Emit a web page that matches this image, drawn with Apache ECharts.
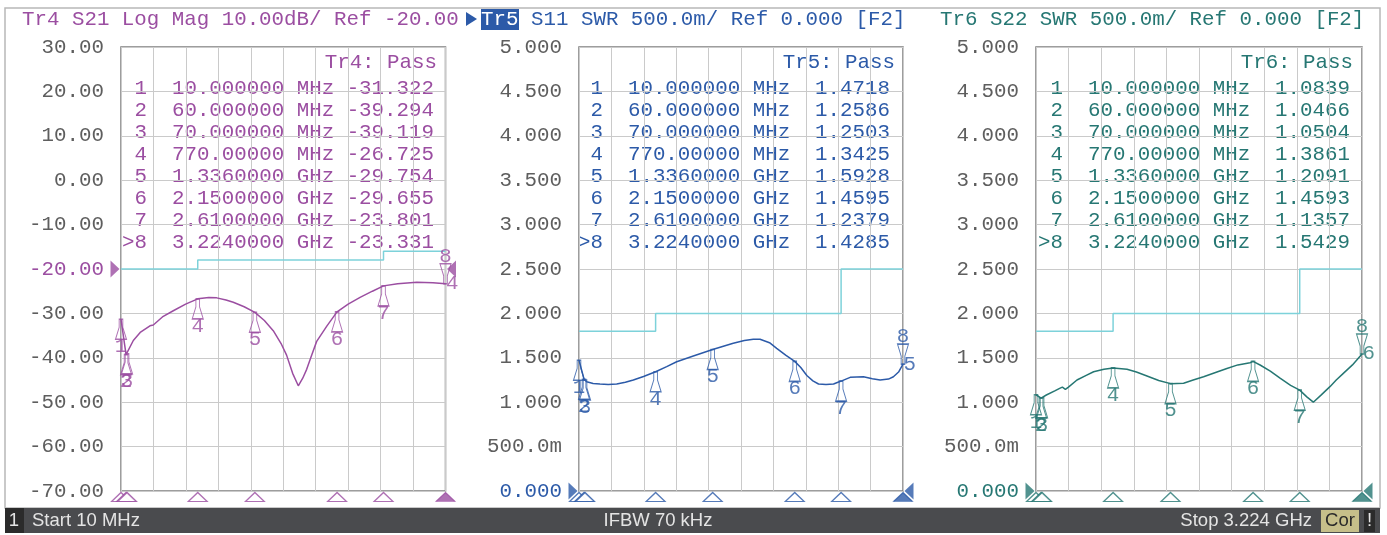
<!DOCTYPE html>
<html>
<head>
<meta charset="utf-8">
<script src="https://cdn.jsdelivr.net/npm/echarts@6/dist/echarts.min.js"></script>
<style>
html, body { margin: 0; padding: 0; background: #fff; }
#chart { width: 1387px; height: 535px; }
</style>
</head>
<body>
<div id="chart"></div>
<script>
// marker stimulus (MHz) and readouts
const markerFreqs = [10, 60, 70, 770, 1336, 2150, 2610, 3224];
const s21Markers = [-31.322, -39.294, -39.119, -26.725, -29.754, -29.655, -23.801, -23.331];
const s11Markers = [1.4718, 1.2586, 1.2503, 1.3425, 1.5928, 1.4595, 1.2379, 1.4285];
const s22Markers = [1.0839, 1.0466, 1.0504, 1.3861, 1.2091, 1.4593, 1.1357, 1.5429];

// traces
const s21Freqs = [10, 60, 70, 132, 200, 297, 330, 420, 528, 650, 770, 880, 958, 1050, 1122, 1230, 1336, 1430, 1518, 1600, 1650, 1710, 1766, 1810, 1849, 1900, 1948, 2050, 2150, 2260, 2378, 2500, 2610, 2750, 2939, 3100, 3224];
const s21Values = [-31.322, -39.294, -39.119, -36.1, -34.3, -32.8, -32.6, -30.8, -29.4, -27.9, -26.725, -26.4, -26.5, -27.0, -27.5, -28.5, -29.754, -31.6, -33.9, -37.0, -39.4, -43.5, -46.3, -44.6, -42.6, -39.3, -36.3, -32.8, -29.655, -27.9, -26.4, -25.0, -23.801, -23.3, -23.0, -23.1, -23.331];

const s11Freqs = [10, 60, 70, 86, 150, 218, 300, 384, 470, 549, 650, 770, 880, 979, 1144, 1336, 1540, 1650, 1739, 1806, 1900, 1971, 2060, 2150, 2210, 2270, 2330, 2386, 2460, 2535, 2610, 2700, 2832, 2920, 2997, 3080, 3129, 3180, 3224];
const s11Values = [1.4718, 1.2586, 1.2503, 1.23, 1.21, 1.205, 1.2, 1.205, 1.225, 1.25, 1.29, 1.3425, 1.40, 1.456, 1.52, 1.5928, 1.663, 1.695, 1.708, 1.708, 1.67, 1.607, 1.53, 1.4595, 1.39, 1.30, 1.24, 1.205, 1.2, 1.205, 1.2379, 1.28, 1.287, 1.265, 1.25, 1.26, 1.287, 1.34, 1.4285];

const s22Freqs = [10, 60, 70, 112, 200, 243, 270, 300, 330, 414, 500, 578, 680, 770, 907, 1000, 1104, 1220, 1336, 1465, 1560, 1662, 1780, 1892, 2000, 2120, 2150, 2219, 2320, 2416, 2520, 2610, 2680, 2744, 2820, 2908, 2970, 3040, 3130, 3224];
const s22Values = [1.0839, 1.0466, 1.0504, 1.081, 1.13, 1.156, 1.17, 1.145, 1.17, 1.25, 1.30, 1.343, 1.37, 1.3861, 1.37, 1.34, 1.295, 1.245, 1.2091, 1.213, 1.25, 1.287, 1.335, 1.38, 1.42, 1.445, 1.4593, 1.419, 1.35, 1.27, 1.19, 1.1357, 1.06, 1.0, 1.08, 1.175, 1.25, 1.325, 1.42, 1.5429];

// limit lines
const limitEdges = [10, 770, 2610, 3224];
const s21Limits = [-20, -18, -16];
const swrLimits = [1.8, 2.0, 2.5];

const startFreq = 10, stopFreq = 3224;

const MONO = '"Liberation Mono", "DejaVu Sans Mono", monospace';
const FONT = '20.8px ' + MONO;
const SANS = '18.5px "Liberation Sans", Arial, sans-serif';
const limitColor = '#7dd2da';

const panels = [
    { left: 121, right: 941.5, title: 'Tr4 S21 Log Mag 10.00dB/ Ref -20.00', titleX: 22, trace: 'Tr4', num: '4',
      freqs: s21Freqs, values: s21Values, markers: s21Markers, limits: s21Limits,
      yMin: -70, yMax: 30, yStep: 10, ref: -20, color: '#9b4ea1', digits: 3, tableX: 434, passX: 437,
      fmt: v => v.toFixed(2) },
    { left: 579, right: 484, title: 'S11 SWR 500.0m/ Ref 0.000 [F2]', titleX: 531, trace: 'Tr5', num: '5',
      freqs: s11Freqs, values: s11Values, markers: s11Markers, limits: swrLimits,
      yMin: 0, yMax: 5, yStep: 0.5, ref: 0, color: '#2c5aa8', digits: 4, tableX: 890, passX: 895,
      fmt: v => Math.abs(v - 0.5) < 1e-9 ? '500.0m' : v.toFixed(3) },
    { left: 1036, right: 25, title: 'Tr6 S22 SWR 500.0m/ Ref 0.000 [F2]', titleX: 940, trace: 'Tr6', num: '6',
      freqs: s22Freqs, values: s22Values, markers: s22Markers, limits: swrLimits,
      yMin: 0, yMax: 5, yStep: 0.5, ref: 0, color: '#267773', digits: 4, tableX: 1350, passX: 1353,
      fmt: v => Math.abs(v - 0.5) < 1e-9 ? '500.0m' : v.toFixed(3) }
];

const upMarker = 'path://M4,0 L8,0 L8,8 L12,20 L0,20 L4,8 Z';
const downMarker = 'path://M0,0 L12,0 L8,12 L8,20 L4,20 L4,12 Z';
const arrowRight = 'path://M0,0 L10,9 L0,18 Z';
const arrowLeft = 'path://M10,0 L0,9 L10,18 Z';

function freqText(f) {
    return f < 1000 ? f.toPrecision(8) + ' MHz' : (f / 1000).toPrecision(8) + ' GHz';
}

const grids = [], xAxes = [], yAxes = [], series = [], graphics = [];

// frame and status bar
graphics.push({ type: 'rect', shape: { x: 5, y: 8, width: 1375, height: 500 },
    style: { fill: 'none', stroke: '#b8b8b8', lineWidth: 1.5 }, z: -1 });
graphics.push({ type: 'rect', shape: { x: 5, y: 508, width: 1375, height: 25 }, style: { fill: '#4a4b4e' } });
graphics.push({ type: 'rect', shape: { x: 5, y: 508, width: 19, height: 25 }, style: { fill: '#2b2b2b' } });
graphics.push({ type: 'text', x: 14, y: 521, style: { text: '1', font: SANS, fill: '#e4e4e4', align: 'center', verticalAlign: 'middle' } });
graphics.push({ type: 'text', x: 32, y: 521, style: { text: 'Start ' + startFreq + ' MHz', font: SANS, fill: '#e4e4e4', align: 'left', verticalAlign: 'middle' } });
graphics.push({ type: 'text', x: 658, y: 521, style: { text: 'IFBW 70 kHz', font: SANS, fill: '#e4e4e4', align: 'center', verticalAlign: 'middle' } });
graphics.push({ type: 'text', x: 1312, y: 521, style: { text: 'Stop ' + (stopFreq / 1000).toFixed(3) + ' GHz', font: SANS, fill: '#e4e4e4', align: 'right', verticalAlign: 'middle' } });
graphics.push({ type: 'rect', shape: { x: 1321, y: 510, width: 38, height: 22 }, style: { fill: '#c6bf8a' } });
graphics.push({ type: 'text', x: 1340, y: 521, style: { text: 'Cor', font: SANS, fill: '#2a2a2a', align: 'center', verticalAlign: 'middle' } });
graphics.push({ type: 'rect', shape: { x: 1364, y: 510, width: 11, height: 22 }, style: { fill: '#2b2b2b' } });
graphics.push({ type: 'text', x: 1369.5, y: 521, style: { text: '!', font: SANS, fill: '#e4e4e4', align: 'center', verticalAlign: 'middle' } });

// active trace highlight for Tr5
graphics.push({ type: 'polygon', shape: { points: [[466, 12], [477, 19], [466, 26]] }, style: { fill: '#2c5aa8' } });
graphics.push({ type: 'rect', shape: { x: 481, y: 9, width: 38, height: 21 }, style: { fill: '#2c5aa8' } });
graphics.push({ type: 'text', x: 481, y: 19.5, style: { text: 'Tr5', font: FONT, fill: '#ffffff', align: 'left', verticalAlign: 'middle' } });

panels.forEach((p, i) => {
    grids.push({ left: p.left, right: p.right, top: 47, bottom: 44, show: true,
        backgroundColor: '#fff', borderColor: '#7d7d7d', borderWidth: 1.5 });
    xAxes.push({ type: 'value', gridIndex: i, min: startFreq, max: stopFreq, interval: (stopFreq - startFreq) / 10,
        axisLabel: { show: false }, axisTick: { show: false }, axisLine: { show: false },
        splitLine: { show: true, lineStyle: { color: '#cacaca', width: 1 } } });
    yAxes.push({ type: 'value', gridIndex: i, min: p.yMin, max: p.yMax, interval: p.yStep,
        axisTick: { show: false }, axisLine: { show: false },
        splitLine: { show: true, lineStyle: { color: '#cacaca', width: 1 } },
        axisLabel: { margin: 17, fontFamily: MONO, fontSize: 20.8, color: '#5e5e5e',
            formatter: v => Math.abs(v - p.ref) < 1e-9 ? '{r|' + p.fmt(v) + '}' : p.fmt(v),
            rich: { r: { color: p.color, fontFamily: MONO, fontSize: 20.8 } } } });

    // limit line
    const lim = [];
    p.limits.forEach((v, k) => { lim.push([limitEdges[k], v]); lim.push([limitEdges[k + 1], v]); });
    series.push({ type: 'line', xAxisIndex: i, yAxisIndex: i, data: lim, symbol: 'none', silent: true,
        lineStyle: { color: limitColor, width: 1.5 }, z: 2 });

    // trace
    series.push({ type: 'line', xAxisIndex: i, yAxisIndex: i, symbol: 'none', silent: true,
        data: p.freqs.map((f, k) => [f, p.values[k]]),
        lineStyle: { color: p.color, width: 1.5 }, z: 3 });

    const labelBase = { show: true, color: p.color, fontFamily: MONO, fontSize: 20.8 };

    // markers 1..7
    series.push({ type: 'scatter', xAxisIndex: i, yAxisIndex: i, clip: false, silent: true, z: 4,
        data: markerFreqs.slice(0, 7).map((f, k) => ({ value: [f, p.markers[k]], name: String(k + 1) })),
        symbol: upMarker, symbolSize: [11, 20], symbolOffset: [0, 10],
        itemStyle: { color: 'rgba(255,255,255,0)', borderColor: p.color, borderWidth: 1.2 },
        label: Object.assign({ position: 'bottom', distance: -4, formatter: d => d.name }, labelBase) });

    // active marker 8
    series.push({ type: 'scatter', xAxisIndex: i, yAxisIndex: i, clip: false, silent: true, z: 4,
        data: [{ value: [markerFreqs[7], p.markers[7]], name: '8' }],
        symbol: downMarker, symbolSize: [11, 20], symbolOffset: [0, -10],
        itemStyle: { color: 'rgba(255,255,255,0)', borderColor: p.color, borderWidth: 1.2 },
        label: Object.assign({ position: 'top', distance: -4, formatter: d => d.name }, labelBase) });

    // trace number at the end of the sweep
    series.push({ type: 'scatter', xAxisIndex: i, yAxisIndex: i, clip: false, silent: true, z: 4,
        data: [[stopFreq, p.values[p.values.length - 1]]], symbolSize: 1, itemStyle: { color: p.color },
        label: Object.assign({ position: 'right', distance: 0, formatter: p.num }, labelBase) });

    // stimulus markers under the grid
    series.push({ type: 'scatter', xAxisIndex: i, yAxisIndex: i, clip: false, silent: true, z: 4,
        data: markerFreqs.map((f, k) => ({ value: [f, p.yMin],
            itemStyle: k === 7 ? { color: p.color, borderColor: p.color } : { color: '#fff', borderColor: p.color, borderWidth: 1.2 } })),
        symbol: 'triangle', symbolSize: [19, 9], symbolOffset: [0, 6] });

    // reference level arrows
    series.push({ type: 'scatter', xAxisIndex: i, yAxisIndex: i, clip: false, silent: true, z: 5,
        data: [{ value: [startFreq, p.ref], symbol: arrowRight, symbolOffset: [-6, 0] },
               { value: [stopFreq, p.ref], symbol: arrowLeft, symbolOffset: [6, 0] }],
        symbolSize: [9, 17], itemStyle: { color: p.color } });

    // title
    graphics.push({ type: 'text', x: p.titleX, y: 19.5,
        style: { text: p.title, font: FONT, fill: p.color, align: 'left', verticalAlign: 'middle' } });

    // marker table
    graphics.push({ type: 'text', x: p.passX, y: 62,
        style: { text: p.trace + ': Pass', font: FONT, fill: p.color, align: 'right', verticalAlign: 'middle' } });
    markerFreqs.forEach((f, k) => {
        const idx = k === 7 ? '>8' : ' ' + (k + 1);
        const row = idx + '  ' + freqText(f) + p.markers[k].toFixed(p.digits).padStart(8, ' ');
        graphics.push({ type: 'text', x: p.tableX, y: 88 + 22.14 * k,
            style: { text: row, font: FONT, fill: p.color, align: 'right', verticalAlign: 'middle' } });
    });
});

const chart = echarts.init(document.getElementById('chart'));
chart.setOption({
    backgroundColor: '#fff',
    animation: false,
    grid: grids,
    xAxis: xAxes,
    yAxis: yAxes,
    series: series,
    graphic: { elements: graphics }
});
</script>
</body>
</html>
